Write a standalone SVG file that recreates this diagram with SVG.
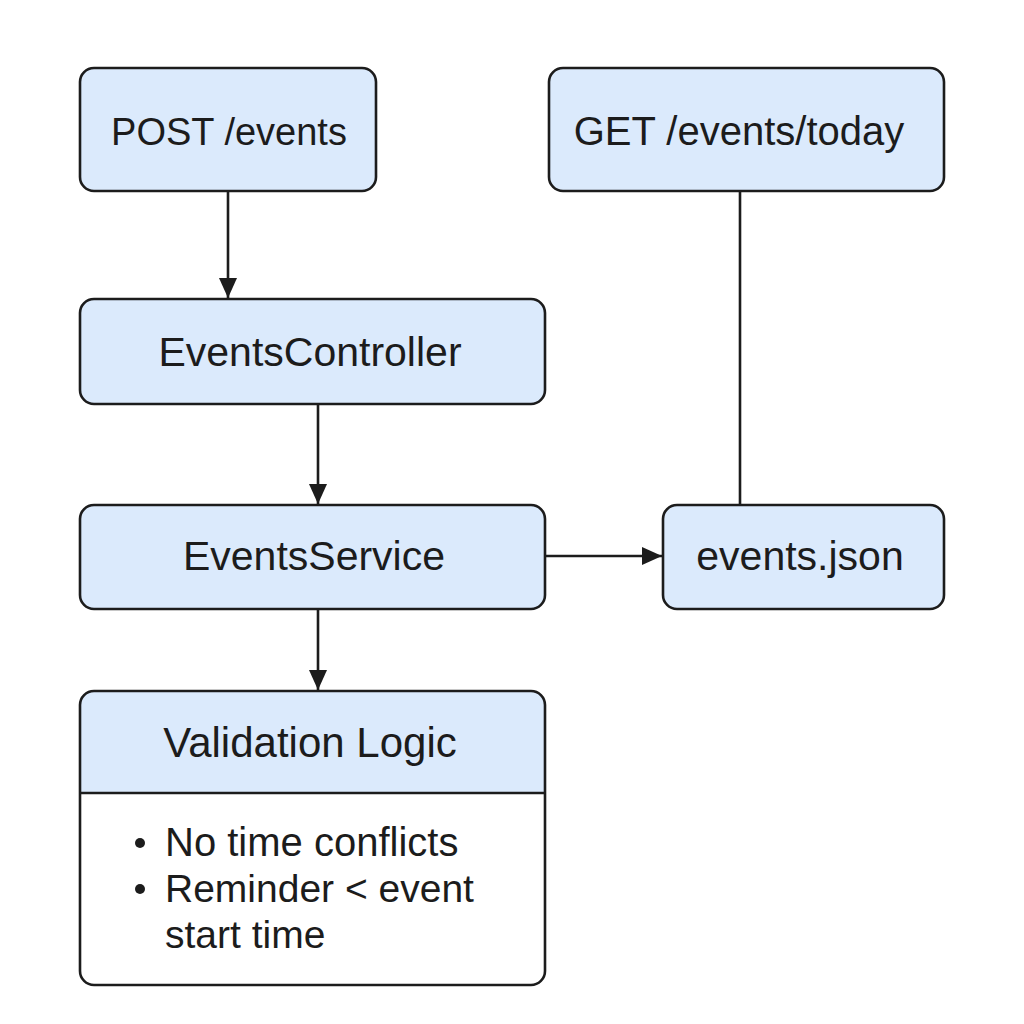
<svg xmlns="http://www.w3.org/2000/svg" width="1024" height="1024" viewBox="0 0 1024 1024">
  <style>
    .box { fill: #dbeafc; stroke: #1c1c1c; stroke-width: 2.6; }
    .lbl { font-family: "Liberation Sans", Arial, sans-serif; font-size: 40px; fill: #1c1c1c; text-anchor: middle; }
    .item { font-family: "Liberation Sans", Arial, sans-serif; font-size: 39px; fill: #1c1c1c; }
    .edge { stroke: #1c1c1c; stroke-width: 2.6; fill: none; }
  </style>
  <defs>
    <marker id="arrow" viewBox="0 0 20 18" refX="20" refY="9" markerWidth="20" markerHeight="18" markerUnits="userSpaceOnUse" orient="auto">
      <path d="M0,0 L20,9 L0,18 Z" fill="#1c1c1c"/>
    </marker>
  </defs>
  <rect width="1024" height="1024" fill="#ffffff"/>

  <g id="connectors">
    <line class="edge" x1="228" y1="191" x2="228" y2="298" marker-end="url(#arrow)"/>
    <line class="edge" x1="318" y1="404" x2="318" y2="504" marker-end="url(#arrow)"/>
    <line class="edge" x1="318" y1="609" x2="318" y2="690" marker-end="url(#arrow)"/>
    <line class="edge" x1="545" y1="556" x2="662" y2="556" marker-end="url(#arrow)"/>
    <line class="edge" x1="740" y1="191" x2="740" y2="505"/>
  </g>

  <g id="post-events">
    <rect class="box" x="80" y="68" width="296" height="123" rx="14"/>
    <text class="lbl" x="229" y="145" style="font-size:38px">POST /events</text>
  </g>

  <g id="get-events-today">
    <rect class="box" x="549" y="68" width="395" height="123" rx="14"/>
    <text class="lbl" x="739" y="145">GET /events/today</text>
  </g>

  <g id="events-controller">
    <rect class="box" x="80" y="299" width="465" height="105" rx="14"/>
    <text class="lbl" x="310" y="366" style="font-size:41px">EventsController</text>
  </g>

  <g id="events-service">
    <rect class="box" x="80" y="505" width="465" height="104" rx="14"/>
    <text class="lbl" x="314" y="570" style="font-size:41px">EventsService</text>
  </g>

  <g id="events-json">
    <rect class="box" x="663" y="505" width="281" height="104" rx="14"/>
    <text class="lbl" x="800" y="570" style="font-size:41px">events.json</text>
  </g>

  <g id="validation-logic">
    <path d="M80,793 L80,705 Q80,691 94,691 L531,691 Q545,691 545,705 L545,793 Z" fill="#dbeafc"/>
    <rect x="80" y="691" width="465" height="294" rx="14" fill="none" stroke="#1c1c1c" stroke-width="2.6"/>
    <line x1="80" y1="793" x2="545" y2="793" stroke="#1c1c1c" stroke-width="2.6"/>
    <text class="lbl" x="310" y="757" style="font-size:42px">Validation Logic</text>
    <circle cx="140" cy="843" r="5" fill="#1c1c1c"/>
    <circle cx="140" cy="889" r="5" fill="#1c1c1c"/>
    <text class="item" x="165" y="856" style="font-size:40px">No time conflicts</text>
    <text class="item" x="165" y="902">Reminder &lt; event</text>
    <text class="item" x="165" y="948">start time</text>
  </g>
</svg>
